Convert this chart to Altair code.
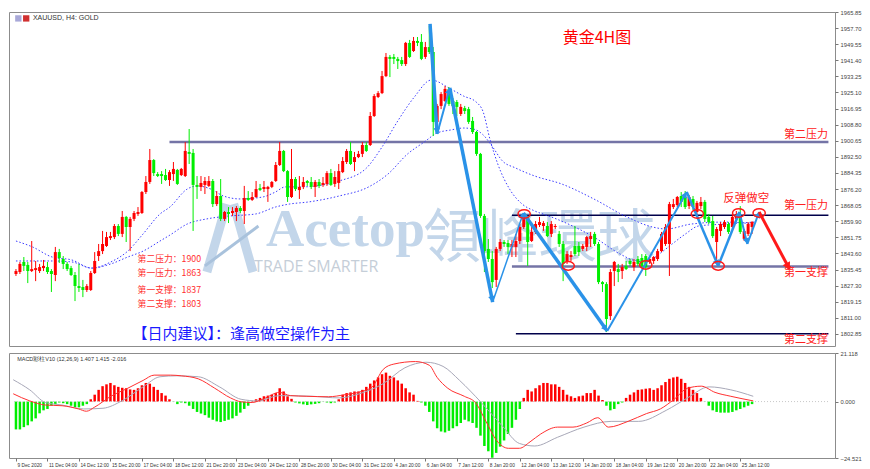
import math
import altair as alt
import pandas as pd

# ---------------- candle data (4H XAUUSD) ----------------
opens = [1833.2,1834.2,1839.3,1837.8,1834.7,1835.2,1834.7,1836.2,1836.7,1834.7,
         1832.7,1844.3,1840.8,1838.3,1836.2,1832.7,1827.1,1826.6,1825.1,1825.1,
         1833.7,1842.3,1844.8,1847.4,1851.4,1851.9,1857.5,1853.5,1862.1,1857.0,
         1861.1,1863.6,1864.1,1874.7,1879.8,1890.9,1883.8,1883.8,1883.3,1880.8,
         1883.8,1885.9,1883.3,1882.8,1895.0,1894.5,1878.3,1877.3,1878.3,1877.8,
         1880.3,1868.6,1872.7,1861.1,1864.6,1864.1,1864.6,1866.6,1865.1,1871.7,
         1870.7,1872.2,1876.7,1876.2,1876.2,1877.3,1880.3,1888.4,1895.5,1885.3,
         1872.2,1881.3,1875.7,1877.3,1880.3,1879.8,1877.3,1879.8,1878.3,1878.8,
         1884.3,1878.8,1879.3,1884.8,1889.9,1895.5,1889.9,1892.4,1894.0,1898.5,
         1898.5,1913.2,1922.8,1924.8,1933.4,1943.1,1943.1,1942.1,1941.5,1939.5,
         1950.2,1946.1,1951.2,1950.7,1943.1,1948.1,1945.6,1910.2,1918.3,1920.8,
         1926.9,1920.8,1920.3,1914.2,1917.2,1916.7,1910.7,1905.1,1894.0,1862.6,
         1845.9,1840.8,1830.2,1845.9,1849.4,1848.9,1846.9,1846.9,1849.9,1857.0,
         1862.1,1849.9,1854.5,1858.0,1857.5,1857.5,1853.5,1857.0,1853.5,1848.4,
         1839.8,1841.8,1847.4,1847.4,1845.9,1846.9,1850.9,1853.5,1848.4,1829.1,
         1828.1,1811.9,1834.7,1835.7,1834.7,1837.3,1839.8,1836.7,1840.8,1841.3,
         1842.3,1839.3,1839.8,1840.8,1844.8,1848.4,1848.4,1867.1,1868.1,1872.7,
         1872.2,1867.6,1871.2,1864.6,1867.6,1869.7,1862.1,1860.0,1849.4,1855.0,
         1857.0,1858.5,1857.0,1861.1,1862.6,1851.0,1853.5,1857.0]
highs = [1835.7,1839.3,1841.8,1839.3,1849.9,1839.8,1838.3,1840.3,1839.3,1835.7,
         1846.9,1845.9,1842.3,1839.3,1837.3,1834.2,1838.3,1830.2,1828.1,1834.7,
         1844.3,1848.4,1855.0,1854.5,1854.5,1858.5,1858.5,1865.1,1862.6,1862.1,
         1865.1,1867.1,1875.2,1882.8,1896.5,1891.4,1884.8,1885.3,1886.4,1885.8,
         1889.9,1886.4,1886.9,1900.0,1906.6,1896.5,1882.8,1882.8,1882.3,1882.8,
         1881.3,1875.2,1881.3,1865.1,1867.1,1867.1,1867.6,1867.6,1877.8,1875.2,
         1874.7,1880.3,1878.8,1880.3,1877.8,1880.3,1889.9,1900.0,1896.0,1885.8,
         1896.5,1882.3,1882.8,1882.3,1880.8,1882.3,1880.8,1881.3,1882.3,1885.3,
         1886.4,1885.3,1888.9,1892.4,1896.5,1900.0,1895.0,1895.5,1900.0,1900.0,
         1915.2,1924.3,1925.8,1936.0,1945.1,1944.1,1944.6,1943.1,1943.1,1950.7,
         1951.7,1953.2,1953.2,1954.7,1950.7,1958.8,1948.1,1919.3,1925.3,1928.4,
         1927.9,1922.3,1921.3,1919.3,1918.3,1917.8,1912.7,1905.6,1894.5,1863.6,
         1850.9,1844.8,1846.9,1850.9,1850.4,1850.4,1850.4,1853.5,1858.5,1863.6,
         1862.6,1858.5,1860.0,1862.1,1860.0,1859.5,1860.0,1858.5,1855.0,1849.9,
         1844.8,1844.8,1857.5,1849.4,1848.4,1852.4,1854.5,1854.5,1849.4,1829.6,
         1829.1,1835.7,1839.8,1838.3,1838.3,1839.8,1840.8,1840.8,1842.3,1843.3,
         1843.3,1841.8,1842.3,1845.9,1854.5,1858.5,1869.7,1871.2,1872.7,1874.7,
         1875.2,1873.2,1872.7,1870.2,1872.2,1870.7,1863.6,1862.6,1857.0,1859.5,
         1860.5,1859.5,1863.6,1865.1,1867.6,1856.0,1859.5,1860.0]
lows = [1832.2,1833.2,1834.7,1828.6,1834.2,1829.6,1833.7,1834.7,1833.2,1824.1,
        1829.6,1838.8,1835.7,1834.7,1832.2,1819.5,1824.1,1821.5,1824.1,1824.6,
        1833.2,1839.8,1843.3,1846.9,1850.4,1850.9,1852.4,1851.9,1849.4,1844.8,
        1860.0,1862.6,1863.6,1873.7,1878.8,1882.8,1882.3,1878.8,1880.3,1877.8,
        1880.3,1878.3,1882.8,1882.3,1888.9,1855.0,1871.2,1875.2,1873.7,1877.3,
        1867.1,1867.6,1860.0,1860.0,1859.0,1862.6,1860.0,1864.1,1858.5,1870.2,
        1870.2,1871.7,1875.2,1874.7,1869.7,1876.7,1879.8,1887.9,1884.8,1869.7,
        1871.7,1875.2,1871.2,1876.2,1877.8,1876.2,1872.2,1876.7,1877.3,1877.8,
        1877.8,1877.3,1876.2,1884.3,1888.9,1888.4,1885.3,1891.9,1892.4,1895.0,
        1898.0,1912.7,1922.3,1924.3,1932.9,1932.9,1939.5,1937.0,1938.5,1938.5,
        1942.6,1945.6,1948.6,1941.5,1942.1,1944.6,1903.1,1905.1,1916.7,1920.3,
        1918.3,1914.2,1913.2,1913.2,1914.2,1909.2,1904.1,1893.0,1861.6,1834.2,
        1839.3,1826.1,1826.6,1844.8,1846.9,1843.3,1841.8,1841.8,1848.4,1856.0,
        1837.3,1849.4,1853.5,1857.0,1855.0,1851.9,1851.9,1856.0,1846.9,1829.6,
        1838.3,1839.8,1842.3,1842.3,1844.8,1844.8,1846.9,1847.4,1828.1,1824.1,
        1803.8,1809.9,1827.1,1829.1,1830.7,1835.2,1837.3,1834.7,1837.3,1836.7,
        1832.2,1838.3,1838.3,1839.8,1844.3,1847.4,1832.2,1866.1,1867.1,1867.1,
        1866.1,1866.1,1865.6,1862.6,1866.1,1859.5,1858.5,1851.4,1838.3,1852.4,
        1856.0,1853.5,1855.0,1860.0,1853.5,1849.9,1852.4,1853.5]
closes = [1834.7,1838.3,1837.3,1834.7,1835.7,1836.2,1836.7,1837.3,1834.2,1833.2,
          1844.3,1841.3,1838.3,1835.7,1832.7,1827.1,1826.1,1825.1,1827.1,1833.7,
          1839.8,1844.8,1848.4,1851.9,1852.4,1857.5,1853.5,1862.1,1857.0,1861.1,
          1864.1,1864.6,1874.7,1879.8,1890.9,1884.3,1882.8,1882.8,1880.8,1884.8,
          1886.4,1878.8,1886.4,1895.5,1894.0,1878.3,1877.3,1879.3,1880.3,1880.3,
          1868.6,1872.7,1861.1,1864.6,1863.6,1865.1,1866.6,1865.1,1871.7,1870.7,
          1872.2,1876.2,1875.7,1877.3,1877.3,1879.8,1888.4,1895.5,1885.3,1872.2,
          1881.3,1876.2,1877.3,1879.8,1879.3,1877.3,1879.8,1877.8,1879.3,1884.3,
          1878.3,1882.3,1885.3,1890.4,1895.5,1888.9,1892.4,1894.0,1898.5,1895.5,
          1913.2,1923.3,1924.8,1933.4,1943.1,1942.1,1942.1,1941.0,1939.5,1950.2,
          1943.1,1951.2,1950.2,1942.1,1948.1,1945.6,1910.2,1918.3,1924.3,1926.9,
          1919.3,1918.3,1917.8,1917.8,1915.7,1910.2,1905.1,1894.0,1862.6,1844.8,
          1840.8,1829.1,1845.9,1849.4,1848.4,1846.9,1848.4,1849.9,1857.0,1862.1,
          1849.4,1854.5,1858.5,1859.5,1859.0,1852.4,1858.5,1857.5,1848.4,1838.3,
          1843.3,1842.8,1843.3,1844.3,1847.4,1851.9,1852.4,1848.4,1829.1,1828.1,
          1810.4,1834.2,1839.3,1834.2,1836.7,1835.7,1838.3,1839.3,1838.3,1837.3,
          1836.7,1840.8,1841.8,1844.8,1853.5,1857.0,1868.6,1868.6,1872.2,1869.7,
          1867.1,1872.2,1867.1,1869.2,1869.7,1861.1,1859.5,1852.4,1856.0,1858.5,
          1859.5,1854.5,1862.1,1863.6,1854.5,1855.0,1858.5,1859.5]

# moving averages (dotted)
fast_ma_i = [0,4.2,9.2,14.2,19.2,24.1,28.4,32.3,36.6,39.1,43.5,46.0,49.5,52.7,57.0,
             62.7,65.9,68.4,72.6,76.4,82.1,88.8,93.0,97.0,101.2,105.5,110.4,113.7,116.9,118.7,
             120.4,122.4,125.4,128.6,131.8,135.3,138.6,146.8,153.5,156.7,160.2,163.4,166.7,170.1,173.4,
             180.1,187.6]
fast_ma_p = [1849.9,1846.9,1841.8,1840.3,1836.2,1839.3,1844.8,1853.5,1863.6,1867.1,1876.2,1877.8,1876.2,1872.7,1871.2,
             1872.2,1874.7,1877.3,1877.3,1877.8,1880.3,1886.4,1897.5,1910.7,1922.8,1931.4,1926.9,1923.3,1920.3,1915.2,
             1901.5,1888.9,1876.2,1868.6,1865.1,1862.6,1860.0,1851.9,1843.3,1840.3,1839.3,1843.3,1848.4,1853.5,1857.5,
             1858.5,1859.5]
slow_ma_i = [0,9.2,14.2,19.2,24.1,28.4,32.3,36.6,39.1,43.5,48.5,54.5,60.9,65.9,69.4,74.4,82.1,89.6,94.5,99.5,
             103.7,107.0,110.4,113.7,116.2,118.7,121.1,123.6,126.9,131.8,138.6,146.8,155.2,161.7,165.2,171.6,180.1,187.6]
slow_ma_p = [1839.8,1839.8,1839.3,1836.2,1838.3,1841.8,1844.8,1849.9,1852.9,1858.5,1861.1,1862.6,1863.6,1867.1,1868.6,
             1869.7,1872.7,1877.3,1883.8,1894.0,1900.0,1904.6,1906.1,1907.1,1906.6,1903.6,1897.5,1890.4,1886.9,1882.8,
             1878.8,1871.2,1862.1,1857.0,1856.0,1858.5,1859.5,1858.5]

# MACD pane
macd_hist = [-12.1,-12.1,-11.1,-10.3,-8.6,-7.3,-5.1,-3.8,-3.2,-1.8,-1.1,-0.4,
             -0.7,-1.1,-1.8,-2.5,-2.5,-1.8,-1.1,1.0,3.0,5.1,6.7,7.5,8.1,
             7.1,6.4,6.0,5.8,5.3,5.1,5.8,7.1,8.1,7.8,6.4,5.1,3.7,2.6,1.0,-0.1,-1.1,-0.4,-0.7,
             -1.8,-3.2,-4.5,-5.2,-5.9,-7.0,-7.9,-8.6,-8.9,-8.4,-7.9,-7.3,-6.2,-4.8,-3.2,-1.8,0.3,1.0,
             1.6,2.3,2.6,3.0,3.7,5.8,4.4,2.3,1.2,-0.4,-0.8,-1.2,-1.5,-1.2,-1.0,-0.7,
             -0.1,-0.4,-0.7,-0.4,1.0,3.0,3.7,4.0,4.4,4.4,5.1,6.4,7.8,9.2,10.5,11.9,12.6,
             11.2,10.5,9.2,7.8,5.8,4.0,3.0,0.3,-0.4,-1.8,-4.5,-8.6,-11.6,-13.0,-13.4,-12.7,-11.6,-10.7,
             -9.3,-7.9,-8.6,-9.3,-11.4,-14.8,-19.3,-21.6,-24.4,-22.3,-19.6,-16.9,-14.1,-11.4,-7.9,-3.2,
             1.6,5.1,4.4,5.8,7.1,8.1,8.1,7.5,7.5,6.4,5.1,3.0,2.3,1.6,
             2.3,2.6,3.7,3.7,5.1,2.6,0.7,-1.8,-3.8,-3.2,-1.1,-0.4,1.6,3.0,4.0,5.1,5.3,5.6,5.8,
             5.1,5.8,7.1,8.5,9.9,10.5,
             10.8,9.9,8.1,6.4,5.1,3.7,1.6,-0.1,-1.8,-3.8,-4.5,-4.8,-4.8,-4.8,-4.5,-3.8,-3.2,-2.5,-1.8,-1.1]
macd_line_i = [-0.7,3.5,7.5,11.7,15.9,17.9,19.9,24.1,28.4,32.3,35.1,39.3,42.0,46.3,50.5,54.5,57.2,60.0,62.9,66.9,
               69.7,73.9,79.4,83.6,87.8,90.5,93.3,96.0,101.5,105.0,107.0,109.7,113.9,116.7,119.4,122.1,125.1,127.9,
               130.6,133.3,137.6,141.5,145.0,147.8,150.5,155.5,160.2,163.7,167.2,170.6,174.1,177.6,181.6,187.3]
macd_line_v = [3.4,0.3,-1.5,-1.8,-3.2,-4.2,-2.5,2.3,5.8,9.2,11.5,11.5,11.2,9.9,5.8,1.6,-0.1,-0.4,1.2,4.0,
               2.6,2.3,2.1,3.0,4.4,6.4,14.0,16.3,17.4,15.8,10.5,5.8,2.3,-0.4,-8.6,-16.9,-20.3,-20.3,
               -17.5,-14.1,-11.1,-11.1,-9.3,-7.0,-11.1,-8.6,-5.2,-3.2,1.0,5.8,6.7,4.0,2.3,0.3]
signal_i = [-0.7,3.5,7.5,11.7,17.2,22.1,26.9,32.3,36.6,40.8,46.3,51.7,57.2,61.4,66.9,75.4,82.1,87.8,93.3,98.8,
            104.2,108.5,112.7,118.2,123.6,127.9,131.8,137.6,144.3,151.2,158.2,165.2,170.6,176.1,181.6,187.3]
signal_v = [9.5,5.1,-0.4,-1.5,-3.2,-2.9,0.3,6.4,10.8,11.2,10.8,6.4,1.0,0.3,2.6,2.3,1.6,3.7,7.8,14.7,
            17.1,15.3,9.2,-0.4,-10.7,-18.2,-19.3,-15.5,-11.1,-8.6,-8.6,-3.8,1.6,6.4,5.1,2.3]

# axes
date_labels = ["9 Dec 2020","11 Dec 04:00","14 Dec 12:00","15 Dec 20:00","17 Dec 04:00","18 Dec 12:00",
               "21 Dec 20:00","23 Dec 04:00","24 Dec 12:00","28 Dec 20:00","30 Dec 04:00","31 Dec 12:00",
               "4 Jan 20:00","6 Jan 04:00","7 Jan 12:00","8 Jan 20:00","12 Jan 04:00","13 Jan 12:00",
               "14 Jan 20:00","18 Jan 04:00","19 Jan 12:00","20 Jan 20:00","22 Jan 04:00","25 Jan 12:00"]
bars_per_label = 8
price_ticks = [1965.85,1957.70,1949.55,1941.40,1933.25,1925.10,1916.95,1908.80,1900.65,1892.50,
               1884.35,1876.20,1868.05,1859.90,1851.75,1843.60,1835.45,1827.30,1819.15,1811.00,1802.85]
macd_ticks = [21.118, 0.0, -24.521]

# support / resistance
level_prices = [1900, 1863, 1837, 1803]
level_from = [39, 126, 126, 127]
level_to = 206.4
level_colors = ["#7474a6", "#00004a", "#7474a6", "#00004a"]
level_widths = [2.5, 1.5, 2.5, 1.5]

# blue zig-zag, red projection, red rings
zig_i = [105.2,107.0,110.2,121.1,128.9,150.2,170.4,178.4,183.8,185.8,188.8]
zig_p = [1959.8,1904.1,1927.4,1819.0,1864.1,1804.3,1874.7,1837.3,1864.6,1848.4,1864.6]
zig_w = [3.5,2,3.5,1.5,3.5,2,2.5,2.5,2,2]
red_i = [188.8, 196.5]
red_p = [1864.6, 1835.7]
ring_i = [129.1,140.3,160.0,173.1,178.4,183.6,188.8]
ring_p = [1863.6,1837.3,1837.8,1863.6,1837.3,1864.1,1864.1]

# ---------------- layout ----------------
W, H1, H2 = 826, 334, 105
XD = [-0.5, 206.8]
YD = [1796.75, 1965.85]
MD = [-24.521, 21.118]
SX = W / (XD[1] - XD[0])
SY = H1 / (YD[1] - YD[0])
BLUE = "#2a92e8"
RED = "#ff0000"
GREEN = "#00ee00"

xs = alt.Scale(domain=XD, nice=False, zero=False)
ys = alt.Scale(domain=YD, nice=False, zero=False)
ms = alt.Scale(domain=MD, nice=False, zero=False)

yaxis = alt.Axis(orient="right", values=price_ticks, format=".2f", labelFontSize=5.8,
                 labelFont="Liberation Sans", labelColor="#444", tickSize=3, tickColor="#777",
                 domain=False, grid=False, labelPadding=2, title=None, labelOverlap=False)
label_array = "[" + ",".join("'%s'" % s for s in date_labels) + "]"
xaxis = alt.Axis(values=[bars_per_label * k for k in range(len(date_labels))],
                 labelExpr=label_array + "[round(datum.value/%d)]" % bars_per_label,
                 labelFontSize=4.8, labelFont="Liberation Sans", labelColor="#333",
                 labelAlign="left", labelOffset=1, labelPadding=1, tickSize=3, tickColor="#777",
                 domain=False, grid=False, title=None, labelOverlap=False)
maxis = alt.Axis(orient="right", values=macd_ticks, format=".3f", labelFontSize=5.8,
                 labelFont="Liberation Sans", labelColor="#444", tickSize=3, tickColor="#777",
                 domain=False, grid=False, labelPadding=2, title=None, labelOverlap=False)


def X(field="i:Q"):
    return alt.X(field, scale=xs, axis=None)


def Y(field="p:Q"):
    return alt.Y(field, scale=ys, axis=yaxis)


def XB(field="i:Q"):
    return alt.X(field, scale=xs, axis=xaxis)


def M(field="v:Q"):
    return alt.Y(field, scale=ms, axis=maxis)


def text(s, i, p, color, size, align="left", baseline="middle", font="Noto Sans CJK SC",
         weight="normal", opacity=1.0):
    df = pd.DataFrame({"i": [i], "p": [p], "t": [s]})
    return alt.Chart(df).mark_text(align=align, baseline=baseline, font=font, fontSize=size,
                                   color=color, fontWeight=weight, opacity=opacity).encode(
        x=X(), y=Y(), text="t:N")


def heads(pi, pp, color, size):
    rows = []
    for k in range(len(pi) - 1):
        dx = (pi[k + 1] - pi[k]) * SX
        dy = -(pp[k + 1] - pp[k]) * SY
        L = math.hypot(dx, dy)
        ang = math.degrees(math.atan2(dx, -dy)) % 360
        rows.append({"i": pi[k + 1] - 3 * dx / L / SX, "p": pp[k + 1] + 3 * dy / L / SY, "a": ang})
    return alt.Chart(pd.DataFrame(rows)).mark_point(shape="triangle-up", filled=True, size=size,
                                                    color=color, opacity=1).encode(
        x=X(), y=Y(), angle=alt.Angle("a:Q", scale=None))


# candles
cdf = pd.DataFrame({"i": list(range(len(closes))), "o": opens, "h": highs, "l": lows, "c": closes})
cdf["col"] = [RED if c >= o else GREEN for o, c in zip(opens, closes)]

layers = []
# watermark
layers.append(text("Acetop", 63.5, 1847.6, "#c3d6ea", 53, baseline="alphabetic",
                   font="Liberation Serif", weight="bold"))
layers.append(text("領峰環球", 103.4, 1850.4, "#c3d6ea", 58, font="Noto Sans CJK TC"))
layers.append(text("TRADE SMARTER", 60.5, 1836.6, "#c5ced8", 16, font="Open Sans"))
logo = pd.DataFrame({"i": [48.5, 53.5, 55.3, 60.2, 48.0, 61.6],
                     "p": [1834.2, 1868.6, 1868.6, 1834.2, 1837.3, 1857.5],
                     "g": ["a", "a", "b", "b", "c", "c"]})
layers.append(alt.Chart(logo[logo.g != "c"]).mark_line(color="#c3d6ea", strokeWidth=9).encode(
    x=X(), y=Y(), detail="g:N"))
layers.append(alt.Chart(logo[logo.g == "c"]).mark_line(color="#a9c2dc", strokeWidth=3).encode(
    x=X(), y=Y(), detail="g:N"))

# levels
ldf = pd.DataFrame({"i": level_from, "i2": [level_to] * 4, "p": level_prices,
                    "col": level_colors, "w": level_widths})
layers.append(alt.Chart(ldf).mark_rule().encode(
    x=X(), x2="i2:Q", y=Y(), color=alt.Color("col:N", scale=None),
    strokeWidth=alt.StrokeWidth("w:Q", scale=None)))

# moving averages
layers.append(alt.Chart(pd.DataFrame({"i": fast_ma_i, "p": fast_ma_p})).mark_line(
    color="#3c3cff", strokeWidth=1, strokeDash=[1.5, 2], interpolate="monotone").encode(x=X(), y=Y()))
layers.append(alt.Chart(pd.DataFrame({"i": slow_ma_i, "p": slow_ma_p})).mark_line(
    color="#3c3cff", strokeWidth=1, strokeDash=[1.5, 2], interpolate="monotone").encode(x=X(), y=Y()))

# candles
layers.append(alt.Chart(cdf).mark_rule(strokeWidth=1).encode(
    x=X(), y=Y("l:Q"), y2="h:Q", color=alt.Color("col:N", scale=None)))
layers.append(alt.Chart(cdf).mark_bar(width=3).encode(
    x=X(), y=Y("o:Q"), y2="c:Q", color=alt.Color("col:N", scale=None)))

# zig-zag
zrows = []
for k in range(len(zig_i) - 1):
    zrows.append({"s": k, "o": 0, "i": zig_i[k], "p": zig_p[k], "w": zig_w[k]})
    zrows.append({"s": k, "o": 1, "i": zig_i[k + 1], "p": zig_p[k + 1], "w": zig_w[k]})
layers.append(alt.Chart(pd.DataFrame(zrows)).mark_line(color=BLUE).encode(
    x=X(), y=Y(), detail="s:N", order="o:Q", strokeWidth=alt.StrokeWidth("w:Q", scale=None)))
layers.append(heads(zig_i, zig_p, BLUE, 45))
layers.append(alt.Chart(pd.DataFrame({"i": red_i, "p": red_p})).mark_line(
    color="#ff1a1a", strokeWidth=3).encode(x=X(), y=Y()))
layers.append(heads(red_i, red_p, "#ff1a1a", 70))

# rings
ring_shape = "M -1 0 A 1 0.7 0 1 1 1 0 A 1 0.7 0 1 1 -1 0 Z"
layers.append(alt.Chart(pd.DataFrame({"i": ring_i, "p": ring_p})).mark_point(
    shape=ring_shape, size=150, filled=False, color="#ff1a1a", strokeWidth=1.5, opacity=1).encode(
    x=X(), y=Y()))

# texts
layers.append(text("XAUUSD, H4:  GOLD", 4.3, 1962.6, "#333333", 7, font="Liberation Sans"))
icons = pd.DataFrame({"i": [0.6, 2.6], "p": [1962.6, 1962.6], "col": ["#a8a8d8", "#d03030"]})
layers.append(alt.Chart(icons).mark_square(size=40, opacity=1).encode(
    x=X(), y=Y(), color=alt.Color("col:N", scale=None)))
layers.append(text("黄金4H图", 147.6, 1952.7, "#ff0000", 16, align="center"))
layers.append(text("第二压力", 206.3, 1903.6, "#ff2020", 11, align="right"))
layers.append(text("第一压力", 206.3, 1867.6, "#ff2020", 11, align="right"))
layers.append(text("第一支撑", 206.3, 1833.7, "#ff2020", 11, align="right"))
layers.append(text("第二支撑", 206.3, 1799.6, "#ff2020", 11, align="right"))
layers.append(text("反弹做空", 185.5, 1871.2, "#ff2020", 11.5, align="center"))
layers.append(text("第二压力：1900", 30.9, 1840.6, "#ff3030", 8.8))
layers.append(text("第一压力：1863", 30.9, 1833.8, "#ff3030", 8.8))
layers.append(text("第一支撑：1837", 30.9, 1825.0, "#ff3030", 8.8))
layers.append(text("第二支撑：1803", 30.9, 1818.2, "#ff3030", 8.8))
layers.append(text("【日内建议】：逢高做空操作为主", 29.6, 1802.6, "#1a1aff", 15))

main = alt.layer(*layers).properties(width=W, height=H1)

# ---------------- MACD pane ----------------
hdf = pd.DataFrame({"i": list(range(len(macd_hist))), "v": macd_hist})
hdf["col"] = [RED if v >= 0 else GREEN for v in macd_hist]

mlayers = [
    alt.Chart(hdf).mark_bar(width=2.5).encode(
        x=XB(), y=M(), y2=alt.datum(0), color=alt.Color("col:N", scale=None)),
    alt.Chart(pd.DataFrame({"i": [XD[0], XD[1]], "v": [0, 0]})).mark_line(
        color="#c8c8c8", strokeDash=[1, 2], strokeWidth=1).encode(x=XB(), y=M()),
    alt.Chart(pd.DataFrame({"i": signal_i, "v": signal_v})).mark_line(
        color="#a8a8b8", strokeWidth=1, interpolate="monotone").encode(x=XB(), y=M()),
    alt.Chart(pd.DataFrame({"i": macd_line_i, "v": macd_line_v})).mark_line(
        color="#ff3030", strokeWidth=1, interpolate="monotone").encode(x=XB(), y=M()),
    alt.Chart(pd.DataFrame({"i": [0.3], "v": [18.6], "t": ["MACD彩柱V10 (12,26,9) 1.407 1.415 -2.016"]})).mark_text(
        align="left", baseline="middle", fontSize=5.5, font="Liberation Sans", color="#333").encode(
        x=XB(), y=M(), text="t:N"),
]
macd = alt.layer(*mlayers).properties(width=W, height=H2)

chart = alt.vconcat(main, macd, spacing=2).properties(padding=0).configure_view(
    stroke="#8c8c8c", strokeWidth=1)

chart.save("out.html", embed_options={"renderer": "svg", "actions": False})
